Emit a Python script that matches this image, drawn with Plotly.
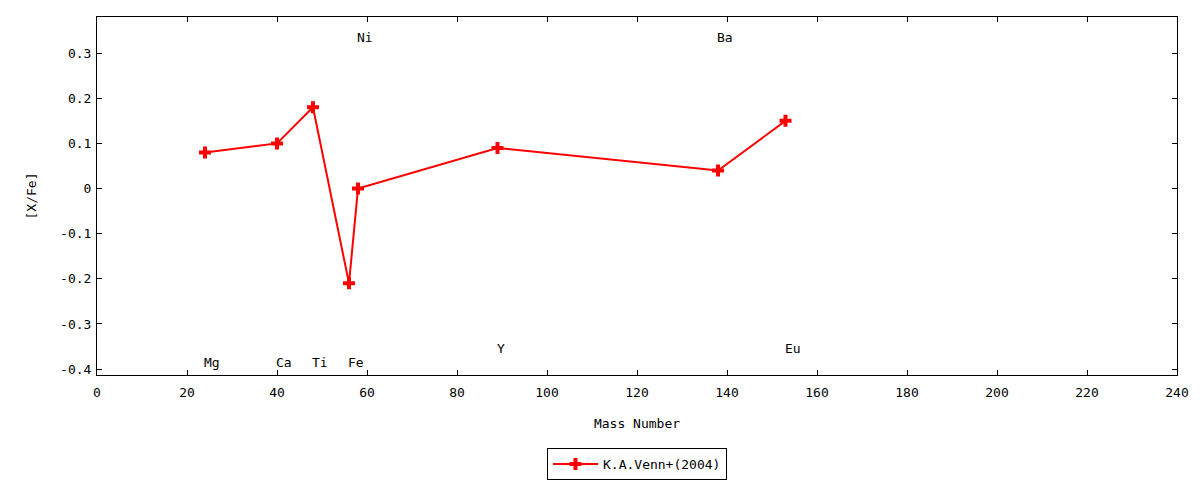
import plotly.graph_objects as go

# data
elements = ["Mg", "Ca", "Ti", "Fe", "Ni", "Y", "Ba", "Eu"]
mass_number = [24, 40, 48, 56, 58, 89, 138, 153]
x_fe = [0.08, 0.10, 0.18, -0.21, 0.00, 0.09, 0.04, 0.15]
label_y = [-0.385, -0.385, -0.385, -0.385, 0.335, -0.354, 0.335, -0.354]

x_ticks = list(range(0, 241, 20))
y_ticks = [0.3, 0.2, 0.1, 0, -0.1, -0.2, -0.3, -0.4]
y_tick_text = ["0.3", "0.2", "0.1", "0", "-0.1", "-0.2", "-0.3", "-0.4"]

FONT = "DejaVu Sans Mono"
RED = "#ff0000"

fig = go.Figure()
fig.add_trace(go.Scatter(
    x=mass_number, y=x_fe,
    mode="lines+markers",
    name="K.A.Venn+(2004)",
    line=dict(color=RED, width=2),
    marker=dict(symbol="cross", size=10, color=RED),
))

# element labels
for el, m, ly in zip(elements, mass_number, label_y):
    fig.add_annotation(
        x=m, y=ly, text=el, showarrow=False,
        xanchor="left", xshift=-3,
        font=dict(family=FONT, size=13, color="black"),
    )

axis_common = dict(
    showgrid=False, zeroline=False, automargin=False,
    showline=True, linecolor="black", linewidth=1,
    mirror="ticks", ticks="inside", ticklen=5, tickcolor="black",
    tickfont=dict(family=FONT, size=13, color="black"),
)

fig.update_xaxes(
    range=[0, 240], tickvals=x_ticks, ticklabelstandoff=5,
    title=dict(text="Mass Number", font=dict(family=FONT, size=13, color="black"), standoff=20),
    **axis_common,
)
fig.update_yaxes(
    range=[-0.413, 0.38], tickvals=y_ticks, ticktext=y_tick_text, ticklabelstandoff=2,
    title=dict(text="[X/Fe]", font=dict(family=FONT, size=13, color="black"), standoff=20),
    **axis_common,
)

# the page body adds 8px, so the figure is a bit smaller than the window
fig.update_layout(
    width=1184, height=472,
    margin=dict(l=89, r=15, t=9, b=105, autoexpand=False),
    paper_bgcolor="white", plot_bgcolor="white",
    font=dict(family=FONT, size=13, color="black"),
    showlegend=True,
    legend=dict(
        orientation="h", x=0.5, xanchor="center", y=-0.249, yanchor="middle",
        bordercolor="black", borderwidth=1, bgcolor="white", itemwidth=45,
        font=dict(family=FONT, size=13, color="black"),
    ),
)

fig.write_html("out.html")
